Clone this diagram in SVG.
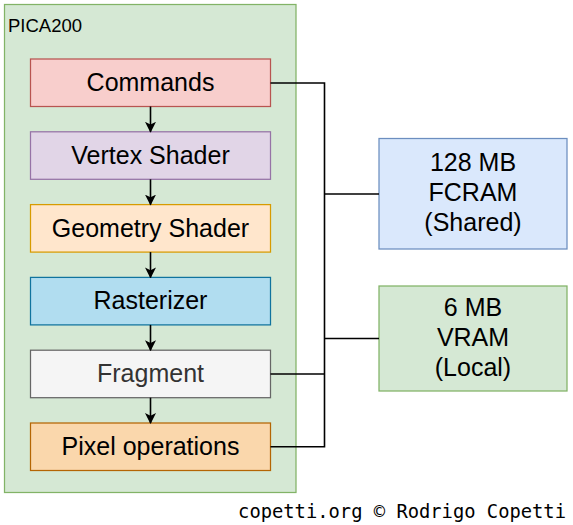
<svg xmlns="http://www.w3.org/2000/svg" width="573" height="525" viewBox="0 0 573 525">
<defs>
<style>
.box{stroke-width:1.25}
.lbl{font-family:"Liberation Sans",Arial,sans-serif;font-size:25px;text-anchor:middle;fill:#000}
.wire{fill:none;stroke:#000;stroke-width:1.6}
</style>
<marker id="arr" markerWidth="11" markerHeight="11" refX="10" refY="5.5" orient="auto" markerUnits="userSpaceOnUse" viewBox="0 0 11 11">
<path d="M0,0 L11,5.5 L0,11 L2.75,5.5 Z" fill="#000"/>
</marker>
</defs>
<rect width="573" height="525" fill="#fff"/>
<g id="pica200">
<rect x="4.5" y="4.5" width="291.5" height="488" fill="#d5e8d4" stroke="#82b366" class="box"/>
<text x="8" y="31.5" font-family="Liberation Sans,Arial,sans-serif" font-size="18.5" fill="#000">PICA200</text>
</g>
<g id="commands">
<rect x="30.5" y="59" width="240" height="47.5" fill="#f8cecc" stroke="#b85450" class="box"/>
<text x="150.5" y="91" class="lbl">Commands</text>
</g>
<g id="vertex">
<rect x="30.5" y="131.8" width="240" height="47.5" fill="#e1d5e7" stroke="#9673a6" class="box"/>
<text x="150.5" y="163.8" class="lbl">Vertex Shader</text>
</g>
<g id="geometry">
<rect x="30.5" y="204.6" width="240" height="47.5" fill="#ffe6cc" stroke="#d79b00" class="box"/>
<text x="150.5" y="236.6" class="lbl">Geometry Shader</text>
</g>
<g id="rasterizer">
<rect x="30.5" y="277.4" width="240" height="47.5" fill="#b1ddf0" stroke="#10739e" class="box"/>
<text x="150.5" y="309.4" class="lbl">Rasterizer</text>
</g>
<g id="fragment">
<rect x="30.5" y="350.2" width="240" height="47.5" fill="#f5f5f5" stroke="#666666" class="box"/>
<text x="150.5" y="382.2" class="lbl" style="fill:#333333">Fragment</text>
</g>
<g id="pixel">
<rect x="30.5" y="423" width="240" height="47.5" fill="#fad7ac" stroke="#b46504" class="box"/>
<text x="150.5" y="455" class="lbl">Pixel operations</text>
</g>
<g id="fcram">
<rect x="379" y="138.5" width="188" height="110.5" fill="#dae8fc" stroke="#6c8ebf" class="box"/>
<text class="lbl"><tspan x="473" y="171">128 MB</tspan><tspan x="473" y="201">FCRAM</tspan><tspan x="473" y="231">(Shared)</tspan></text>
</g>
<g id="vram">
<rect x="379" y="286" width="188" height="105" fill="#d5e8d4" stroke="#82b366" class="box"/>
<text class="lbl"><tspan x="473" y="316">6 MB</tspan><tspan x="473" y="346">VRAM</tspan><tspan x="473" y="376">(Local)</tspan></text>
</g>
<g id="connectors">
<path class="wire" d="M150.5,106.5 V131.8" marker-end="url(#arr)"/>
<path class="wire" d="M150.5,179.3 V204.6" marker-end="url(#arr)"/>
<path class="wire" d="M150.5,252.1 V277.4" marker-end="url(#arr)"/>
<path class="wire" d="M150.5,324.9 V350.2" marker-end="url(#arr)"/>
<path class="wire" d="M150.5,397.7 V423" marker-end="url(#arr)"/>
<path class="wire" d="M270.5,83 H324.5 V446.75 H270.5"/>
<path class="wire" d="M324.5,194 H379"/>
<path class="wire" d="M324.5,338.5 H379"/>
<path class="wire" d="M270.5,374 H324.5"/>
</g>
<text x="566" y="518" font-family="DejaVu Sans Mono,monospace" font-size="18.8" text-anchor="end" fill="#000">copetti.org © Rodrigo Copetti</text>
</svg>
